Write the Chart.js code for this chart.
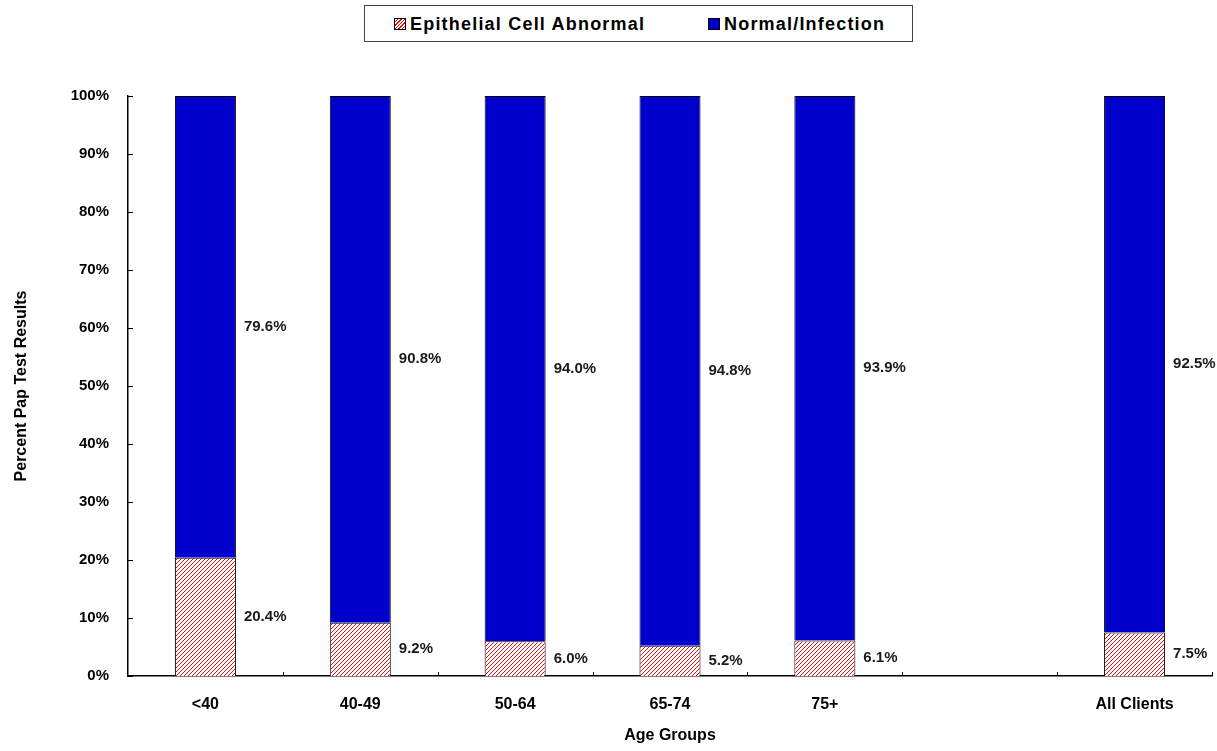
<!DOCTYPE html>
<html>
<head>
<meta charset="utf-8">
<script src="https://cdn.jsdelivr.net/npm/chart.js@4"></script>
<style>
  html, body { margin: 0; padding: 0; background: #fff; }
  #wrap { position: relative; width: 1217px; height: 751px; }
  #legend {
    position: absolute; left: 364px; top: 5px; width: 547px; height: 35px;
    border: 1px solid #444; background: #fff; box-sizing: content-box;
    font: bold 18px Arial, "Liberation Sans", sans-serif; letter-spacing: 1.2px; color: #000;
  }
  #legend .item { position: absolute; top: 7px; line-height: 22px; }
  #legend .sw { display: inline-block; width: 10px; height: 10px; border: 1px solid #000; margin-right: 4px; vertical-align: 0px; }
  #sw-hatch { background: repeating-linear-gradient(-45deg, #fff 0 1.5px, #f01010 1.5px 2.5px); }
  #sw-blue { background: #0000cc; }
</style>
</head>
<body>
<div id="wrap">
  <canvas id="chart" width="1217" height="751"></canvas>
  <div id="legend">
    <span class="item" style="left:29px"><span class="sw" id="sw-hatch"></span>Epithelial Cell Abnormal</span>
    <span class="item" style="left:343px"><span class="sw" id="sw-blue"></span>Normal/Infection</span>
  </div>
</div>
<script>
// Resultados do Pap test por faixa etaria
const grupos = ["<40", "40-49", "50-64", "65-74", "75+", "", "All Clients"];
const anormal = [20.4, 9.2, 6.0, 5.2, 6.1, null, 7.5];
const normal = [79.6, 90.8, 94.0, 94.8, 93.9, null, 92.5];
const yTicks = [0, 10, 20, 30, 40, 50, 60, 70, 80, 90, 100];

// hachura vermelha diagonal, pixel a pixel
function hatch() {
  const c = document.createElement("canvas");
  c.width = 8; c.height = 8;
  const g = c.getContext("2d");
  g.fillStyle = "#ffffff";
  g.fillRect(0, 0, 8, 8);
  g.fillStyle = "#f01010";
  for (let x = 0; x < 8; x++) {
    for (let y = 0; y < 8; y++) {
      if ((x + y) % 4 === 3) g.fillRect(x, y, 1, 1);
    }
  }
  return g.createPattern(c, "repeat");
}

const spacing = {
  id: "spacing",
  beforeInit(chart) { chart.ctx.letterSpacing = "0.7px"; },
};

// rotulos de valor a direita de cada segmento
const valueLabels = {
  id: "valueLabels",
  afterDatasetsDraw(chart) {
    const ctx = chart.ctx;
    ctx.save();
    ctx.letterSpacing = "0px";
    ctx.font = "bold 15px Arial, 'Liberation Sans', sans-serif";
    ctx.fillStyle = "#1a1a1a";
    ctx.textAlign = "left";
    ctx.textBaseline = "middle";
    chart.data.datasets.forEach((ds, i) => {
      chart.getDatasetMeta(i).data.forEach((bar, j) => {
        const v = ds.data[j];
        if (v == null) return;
        const p = bar.getProps(["x", "y", "base", "width"], true);
        ctx.fillText(v.toFixed(1) + "%", p.x + p.width / 2 + 8, (p.y + p.base) / 2);
      });
    });
    ctx.restore();
  },
};

// marcas internas nos eixos
const innerTicks = {
  id: "innerTicks",
  afterDraw(chart) {
    const { ctx, chartArea: a, scales } = chart;
    ctx.save();
    ctx.strokeStyle = "#000";
    ctx.lineWidth = 1;
    ctx.beginPath();
    yTicks.forEach((t) => {
      const y = Math.round(scales.y.getPixelForValue(t)) + 0.5;
      ctx.moveTo(a.left, y); ctx.lineTo(a.left + 5, y);
    });
    for (let k = 1; k <= grupos.length; k++) {
      const x = Math.round(scales.x.getPixelForValue(k - 0.5)) + 0.5;
      ctx.moveTo(x, a.bottom); ctx.lineTo(x, a.bottom - 4);
    }
    ctx.stroke();
    ctx.restore();
  },
};

const tickFont = { family: "Arial, 'Liberation Sans', sans-serif", size: 15, weight: "bold" };

new Chart(document.getElementById("chart"), {
  type: "bar",
  data: {
    labels: grupos,
    datasets: [
      { label: "Epithelial Cell Abnormal", data: anormal, backgroundColor: hatch(), borderColor: "#000", borderWidth: 1 },
      { label: "Normal/Infection", data: normal, backgroundColor: "#0000cc", borderColor: "#000", borderWidth: 1 },
    ],
  },
  options: {
    responsive: false,
    animation: false,
    barPercentage: 0.394,
    categoryPercentage: 1,
    layout: { padding: { top: 96, right: 5, left: 0, bottom: 0 } },
    plugins: { legend: { display: false }, tooltip: { enabled: false } },
    scales: {
      x: {
        stacked: true,
        grid: { display: false, drawTicks: false },
        border: { color: "#000", width: 1.5 },
        ticks: { color: "#000", font: { ...tickFont, size: 16 }, padding: 19 },
        title: { display: true, text: "Age Groups", color: "#000", font: { ...tickFont, size: 16 }, padding: { top: 0, bottom: 6 } },
        afterFit: (s) => { s.height = 75; },
      },
      y: {
        stacked: true,
        min: 0,
        max: 100,
        grid: { display: false, drawTicks: false },
        border: { color: "#000", width: 1.5 },
        afterBuildTicks: (s) => { s.ticks = yTicks.map((v) => ({ value: v })); },
        ticks: { color: "#000", font: tickFont, padding: 19, callback: (v) => v + "%" },
        title: { display: true, text: "Percent Pap Test Results", color: "#000", font: { ...tickFont, size: 16 }, padding: { top: 12, bottom: 0 } },
        afterFit: (s) => { s.width = 128; },
      },
    },
  },
  plugins: [spacing, valueLabels, innerTicks],
});
</script>
</body>
</html>
